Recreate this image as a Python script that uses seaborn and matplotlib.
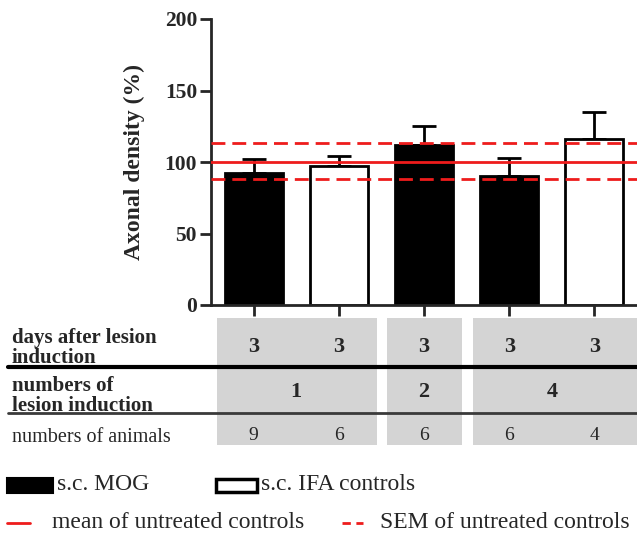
import numpy as np
import pandas as pd
import matplotlib.pyplot as plt
import matplotlib.transforms as mtransforms
from matplotlib.patches import Rectangle
from matplotlib.lines import Line2D
from itertools import groupby
import seaborn as sns

# data
bars = ["MOG_1", "IFA_1", "MOG_2", "MOG_4", "IFA_4"]
groups = ["s.c. MOG", "s.c. IFA controls", "s.c. MOG", "s.c. MOG", "s.c. IFA controls"]
means = [92, 97, 112, 90, 116]
sems = [10, 7.5, 13.5, 13, 19]
ctrl_mean = 100
ctrl_sem_hi = 113.5
ctrl_sem_lo = 88
days = [3, 3, 3, 3, 3]
inductions = [1, 1, 2, 4, 4]
animals = [9, 6, 6, 6, 4]

df = pd.DataFrame({"bar": bars, "group": groups, "mean": means, "sem": sems})

sns.set_style("ticks")
plt.rcParams["font.family"] = ["Liberation Serif", "DejaVu Serif"]

W, H = 637, 535
fig = plt.figure(figsize=(W / 100, H / 100), dpi=100)

def fx(px):
    return px / W

def fy(py):
    return 1 - py / H

red = "#ee1c1c"

# main bar axes
ax = fig.add_axes([fx(211), fy(305), fx(637) - fx(211), fy(19) - fy(305)])
sns.barplot(data=df, x="bar", y="mean", hue="group", order=bars,
            palette={"s.c. MOG": "black", "s.c. IFA controls": "white"},
            dodge=False, edgecolor="black", linewidth=2, width=0.68,
            legend=False, errorbar=None, ax=ax, zorder=2)
ax.errorbar(np.arange(len(bars)), df["mean"], yerr=[np.zeros(len(bars)), df["sem"]],
            fmt="none", ecolor="black", elinewidth=2, capsize=8.5, capthick=2, zorder=1)
ax.axhline(ctrl_mean, color=red, lw=2, zorder=5)
ax.axhline(ctrl_sem_hi, color=red, lw=2, ls=(0, (5, 2.5)), zorder=5)
ax.axhline(ctrl_sem_lo, color=red, lw=2, ls=(0, (5, 2.5)), zorder=5)

ax.set_xlim(-0.5, 4.5)
ax.set_ylim(0, 200)
ax.set_yticks([0, 50, 100, 150, 200])
ax.set_xticks(np.arange(len(bars)))
ax.set_xticklabels([])
ax.set_xlabel("")
ax.set_ylabel("Axonal density (%)", fontsize=17, fontweight="bold")
ax.yaxis.set_label_coords(-0.155, 0.5)
ax.tick_params(axis="both", length=8, width=2, direction="out")
ax.tick_params(axis="y", labelsize=15.5, pad=2)
for lab in ax.get_yticklabels():
    lab.set_fontweight("bold")
sns.despine(ax=ax)
ax.spines["left"].set_linewidth(2)
ax.spines["bottom"].set_linewidth(2)

# table below the bars, sharing x positions with the bars
tab = fig.add_axes([fx(211), fy(450), fx(637) - fx(211), fy(315) - fy(450)])
tab.set_xlim(-0.5, 4.5)
tab.set_ylim(450, 315)
tab.axis("off")

start = 0
for key, grp in groupby(inductions):
    n = len(list(grp))
    end = start + n - 1
    left = start - 0.43
    right = end + 0.45 if end < len(bars) - 1 else 4.5
    tab.add_patch(Rectangle((left, 318), right - left, 127, facecolor="#d4d4d4",
                            edgecolor="none", clip_on=False, zorder=0))
    tab.text((start + end) / 2, 392, str(key), ha="center", va="center",
             fontsize=16, fontweight="bold")
    start = end + 1

for i in range(len(bars)):
    tab.text(i, 347, str(days[i]), ha="center", va="center", fontsize=16, fontweight="bold")
    tab.text(i, 436, str(animals[i]), ha="center", va="center", fontsize=14)

blend = mtransforms.blended_transform_factory(fig.transFigure, tab.transData)
tab.add_line(Line2D([fx(8), 1], [367, 367], transform=blend, color="black", lw=3, clip_on=False))
tab.add_line(Line2D([fx(8), 1], [413, 413], transform=blend, color="#3a3a3a", lw=2, clip_on=False))
tab.text(fx(12), 348, "days after lesion\ninduction", transform=blend, ha="left", va="center",
         fontsize=15, fontweight="bold", linespacing=1.0)
tab.text(fx(12), 396, "numbers of\nlesion induction", transform=blend, ha="left", va="center",
         fontsize=15, fontweight="bold", linespacing=1.0)
tab.text(fx(12), 437, "numbers of animals", transform=blend, ha="left", va="center", fontsize=14.5)

# legend drawn in figure coordinates
fig.patches.append(Rectangle((fx(7), fy(493)), fx(46), 15 / H, facecolor="black",
                             edgecolor="black", lw=1.5, transform=fig.transFigure))
fig.text(fx(57), fy(485), "s.c. MOG", ha="left", va="center", fontsize=17)
fig.patches.append(Rectangle((fx(216), fy(492)), fx(41), 13 / H, facecolor="white",
                             edgecolor="black", lw=2.5, transform=fig.transFigure))
fig.text(fx(261), fy(485), "s.c. IFA controls", ha="left", va="center", fontsize=17)
fig.lines.append(Line2D([fx(7), fx(30)], [fy(523), fy(523)], color=red, lw=2,
                        transform=fig.transFigure))
fig.text(fx(52), fy(522), "mean of untreated controls", ha="left", va="center", fontsize=17)
fig.lines.append(Line2D([fx(342), fx(363)], [fy(523), fy(523)], color=red, lw=2,
                        ls=(0, (3, 2)), transform=fig.transFigure))
fig.text(fx(380), fy(522), "SEM of untreated controls", ha="left", va="center", fontsize=17)

fig.savefig("out.png", dpi=100)
